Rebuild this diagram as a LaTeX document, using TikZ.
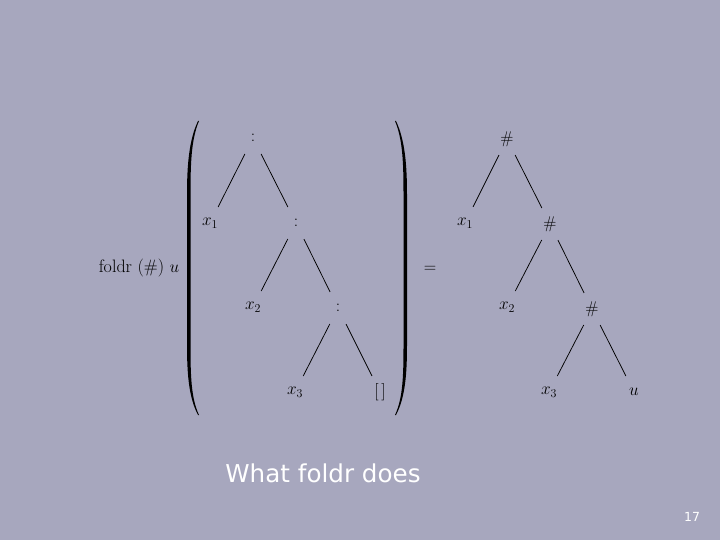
\documentclass[tikz,border=0pt]{standalone}
\usepackage{fontspec}
\newfontfamily\titlefont{DejaVu Sans}
\definecolor{bg}{RGB}{167,167,190}
\tikzset{
  m/.style={inner sep=0pt, anchor=center, font=\fontsize{17}{20}\selectfont},
  br/.style={line width=0.75pt, shorten <=18pt, shorten >=18pt},
}
\begin{document}
\begin{tikzpicture}[x=1pt,y=-1pt]
\fill[bg] (0,0) rectangle (720,540);
\useasboundingbox (0,0) rectangle (720,540);
% left tree
\node[m] (a0) at (253,138) {$:$};
\node[m] (a1) at (210,223) {$x_1$};
\node[m] (a2) at (296,223) {$:$};
\node[m] (a3) at (253,307) {$x_2$};
\node[m] (a4) at (338,308) {$:$};
\node[m] (a5) at (295,392) {$x_3$};
\node[m] (a6) at (380,392) {$[\,]$};
\draw[br] (a0.center) -- (a1.center);
\draw[br] (a0.center) -- (a2.center);
\draw[br] (a2.center) -- (a3.center);
\draw[br] (a2.center) -- (a4.center);
\draw[br] (a4.center) -- (a5.center);
\draw[br] (a4.center) -- (a6.center);
% right tree
\node[m] (b0) at (507,139) {$\#$};
\node[m] (b1) at (465,223) {$x_1$};
\node[m] (b2) at (550,224) {$\#$};
\node[m] (b3) at (507,307) {$x_2$};
\node[m] (b4) at (592,309) {$\#$};
\node[m] (b5) at (549,392) {$x_3$};
\node[m] (b6) at (634,392) {$u$};
\draw[br] (b0.center) -- (b1.center);
\draw[br] (b0.center) -- (b2.center);
\draw[br] (b2.center) -- (b3.center);
\draw[br] (b2.center) -- (b4.center);
\draw[br] (b4.center) -- (b5.center);
\draw[br] (b4.center) -- (b6.center);
% labels
\node[m, font=\fontsize{18}{21}\selectfont] (lhs) at (139,268) {foldr (\#) $u$};
\node[m] (eq) at (430,269) {$=$};
% parentheses
\fill[black] (198,121) .. controls (189,140) and (187,165) .. (187,195) -- (187,345)
  .. controls (187,375) and (189,398) .. (198,415)
  -- (199,415) .. controls (191,398) and (190.5,375) .. (190.5,345) -- (190.5,195)
  .. controls (190.5,165) and (191,140) .. (199,121) -- cycle;
\fill[black] (396,121) .. controls (405,140) and (407,165) .. (407,195) -- (407,345)
  .. controls (407,375) and (405,398) .. (396,415)
  -- (395,415) .. controls (403,398) and (403.5,375) .. (403.5,345) -- (403.5,195)
  .. controls (403.5,165) and (403,140) .. (395,121) -- cycle;
% title
\node[inner sep=0pt, text=white, font=\titlefont\fontsize{24.6}{28}\selectfont] (title) at (323,473) {What foldr does};
\node[inner sep=0pt, text=white, font=\titlefont\fontsize{12.5}{14}\selectfont] (pg) at (692,517) {17};
\end{tikzpicture}
\end{document}
